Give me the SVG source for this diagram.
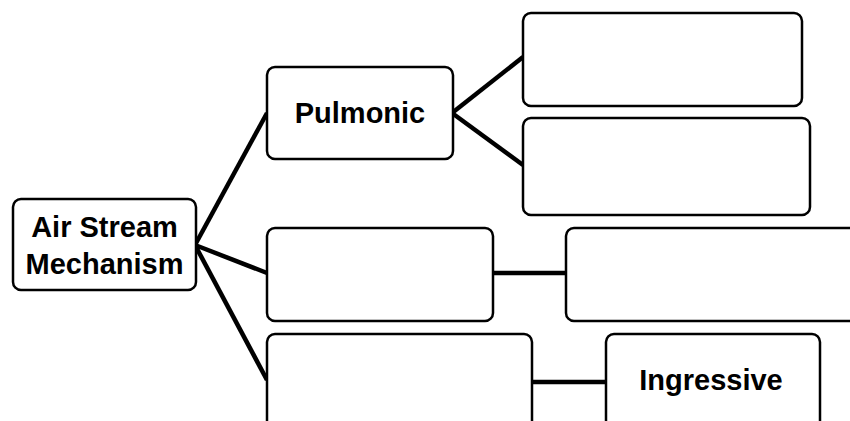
<svg xmlns="http://www.w3.org/2000/svg" width="850" height="421" viewBox="0 0 850 421">
  <style>
    .box { fill: #ffffff; stroke: #000000; stroke-width: 2.5; }
    .link { stroke: #000000; stroke-width: 4.5; fill: none; stroke-linecap: butt; }
    .label { font-family: "Liberation Sans", Arial, sans-serif; font-weight: bold; font-size: 29px; fill: #000000; text-anchor: middle; }
  </style>
  <rect width="850" height="421" fill="#ffffff"/>

  <!-- connectors -->
  <g id="connectors">
    <line class="link" x1="195" y1="245" x2="267" y2="113"/>
    <line class="link" x1="195" y1="245" x2="267" y2="273" stroke-width="6"/>
    <line class="link" x1="195" y1="245" x2="267" y2="380"/>
    <line class="link" x1="452" y1="113" x2="523" y2="57"/>
    <line class="link" x1="452" y1="113" x2="523" y2="165"/>
    <line class="link" x1="493" y1="273" x2="566" y2="273" stroke-width="6"/>
    <line class="link" x1="532" y1="382" x2="606" y2="382"/>
  </g>

  <!-- nodes -->
  <g id="node-airstream">
    <rect class="box" x="13" y="199" width="183" height="91" rx="8"/>
    <text class="label" x="104.5" y="237">Air Stream</text>
    <text class="label" x="104.5" y="274">Mechanism</text>
  </g>
  <g id="node-pulmonic">
    <rect class="box" x="267" y="67" width="186" height="92" rx="8"/>
    <text class="label" x="360" y="123">Pulmonic</text>
  </g>
  <g id="node-pulmonic-a">
    <rect class="box" x="523" y="13" width="279" height="93" rx="8"/>
  </g>
  <g id="node-pulmonic-b">
    <rect class="box" x="523" y="118" width="287" height="97" rx="8"/>
  </g>
  <g id="node-mid-left">
    <rect class="box" x="267" y="228" width="226" height="93" rx="8"/>
  </g>
  <g id="node-mid-right">
    <rect class="box" x="566" y="228" width="300" height="93" rx="8"/>
  </g>
  <g id="node-low-left">
    <rect class="box" x="267" y="334" width="265" height="110" rx="8"/>
  </g>
  <g id="node-ingressive">
    <rect class="box" x="606" y="334" width="214" height="110" rx="8"/>
    <text class="label" x="711" y="390">Ingressive</text>
  </g>
</svg>
